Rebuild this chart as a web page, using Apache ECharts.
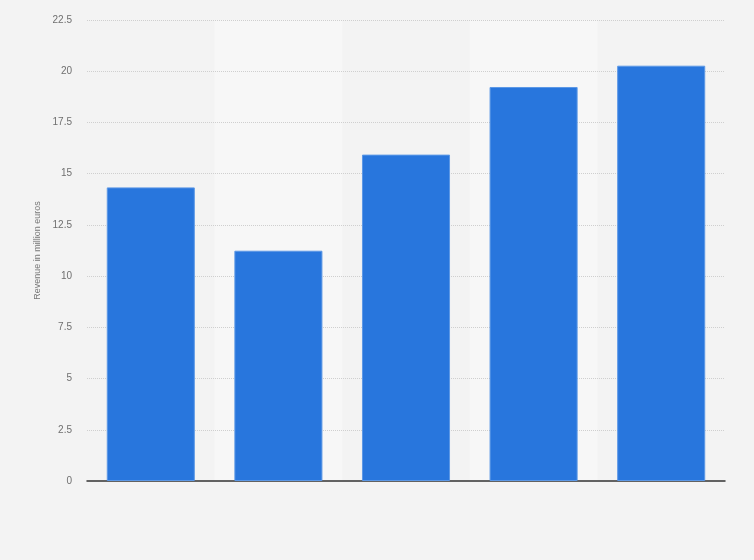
<!DOCTYPE html>
<html>
<head>
<meta charset="utf-8">
<script src="https://cdn.jsdelivr.net/npm/echarts@6/dist/echarts.min.js"></script>
<style>
html,body{margin:0;padding:0;background:#f3f3f3;}
#chart{width:754px;height:560px;}
</style>
</head>
<body>
<div id="chart"></div>
<script>
const categories = ['2016', '2017', '2018', '2019', '2020'];
const revenue = [14.33, 11.24, 15.93, 19.23, 20.27];
const yTicks = [0, 2.5, 5, 7.5, 10, 12.5, 15, 17.5, 20, 22.5];
const yAxisName = 'Revenue in million euros';

const chart = echarts.init(document.getElementById('chart'), null, {renderer: 'canvas'});
chart.setOption({
  backgroundColor: '#f3f3f3',
  animation: false,
  grid: {left: 87, right: 29, top: 20, bottom: 79, containLabel: false},
  xAxis: {
    type: 'category',
    data: categories,
    z: 0,
    axisLine: {show: true, lineStyle: {color: '#333', width: 1.5}},
    axisTick: {show: false},
    axisLabel: {show: false},
    splitArea: {show: true, interval: 0, areaStyle: {color: ['rgba(0,0,0,0)', '#f7f7f7']}},
    splitLine: {show: false}
  },
  yAxis: {
    type: 'value',
    z: 1,
    min: yTicks[0],
    max: yTicks[yTicks.length - 1],
    interval: 2.5,
    name: yAxisName,
    nameLocation: 'middle',
    nameGap: 44,
    nameTextStyle: {color: '#777', fontSize: 9, fontFamily: 'Arial, Liberation Sans, sans-serif'},
    axisLine: {show: false},
    axisTick: {show: false},
    axisLabel: {color: '#6f6f6f', fontSize: 10, margin: 15, fontFamily: 'Arial, Liberation Sans, sans-serif'},
    splitLine: {show: true, showMinLine: false, lineStyle: {color: '#cfcfcf', type: [1, 1], width: 1}}
  },
  series: [{
    type: 'bar',
    z: 2,
    data: revenue,
    barWidth: '69%',
    itemStyle: {color: '#2876dd', borderColor: '#5c98e6', borderWidth: 1}
  }]
});
</script>
</body>
</html>
